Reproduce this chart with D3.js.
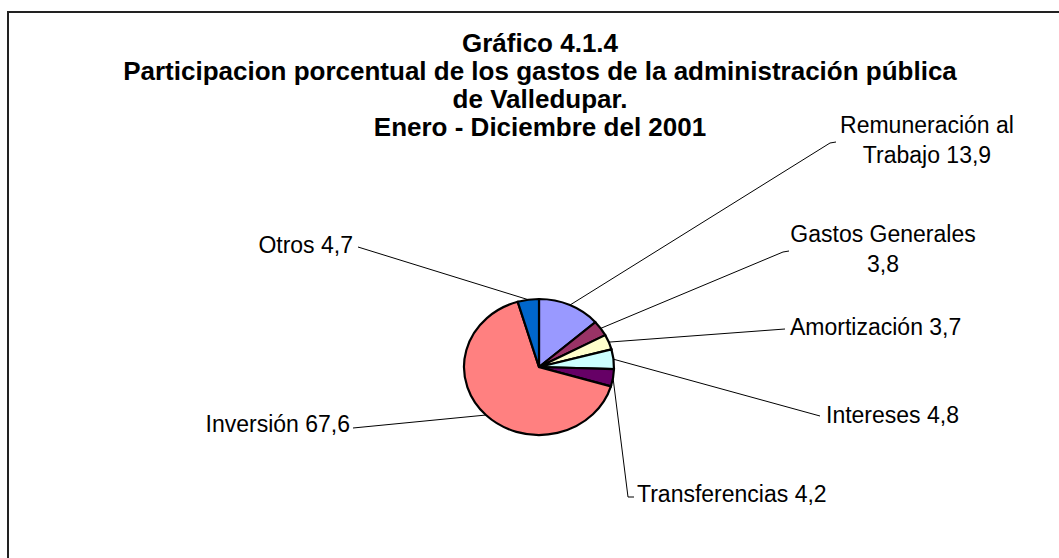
<!DOCTYPE html>
<html>
<head>
<meta charset="utf-8">
<script src="https://cdn.jsdelivr.net/npm/d3@7"></script>
<style>
  body { margin: 0; background: #fff; }
  text { font-family: "Liberation Sans", Arial, sans-serif; fill: #000; }
</style>
</head>
<body>
<div id="chart"></div>
<script>
// data
var categories = ["Remuneración al Trabajo", "Gastos Generales", "Amortización", "Intereses", "Transferencias", "Inversión", "Otros"];
var values = [13.9, 3.8, 3.7, 4.8, 4.2, 67.6, 4.7];
var colors = ["#9999FF", "#993366", "#FFFFCC", "#CCFFFF", "#660066", "#FF8080", "#0066CC"];
var titleLines = ["Gráfico 4.1.4", "Participacion porcentual de los gastos de la administración pública", "de Valledupar.", "Enero - Diciembre del 2001"];

// label placement (layout only)
var labelLayout = [
    {lines: ["Remuneración al", "Trabajo {v}"], x: 927, y: 133, anchor: "middle", end: [[830, 143], [836, 142]]},
    {lines: ["Gastos Generales", "{v}"], x: 883, y: 242, anchor: "middle", end: [[783, 252], [789, 251]]},
    {lines: ["Amortización {v}"], x: 790, y: 335, anchor: "start", end: [[785, 329]]},
    {lines: ["Intereses {v}"], x: 826, y: 423, anchor: "start", end: [[820, 416]]},
    {lines: ["Transferencias {v}"], x: 637, y: 502, anchor: "start", end: [[628, 497], [634, 497]]},
    {lines: ["Inversión {v}"], x: 350, y: 432, anchor: "end", end: [[353, 428]]},
    {lines: ["Otros {v}"], x: 353, y: 253, anchor: "end", end: [[358, 247]]}
];

var W = 1059, H = 558;
var cx = 539, cy = 367, rx = 75, ry = 68;

var svg = d3.select("#chart").append("svg")
    .attr("width", W)
    .attr("height", H);

svg.append("rect")
    .attr("x", 8).attr("y", 12)
    .attr("width", W + 20).attr("height", H + 20)
    .style("fill", "white")
    .style("stroke", "#222")
    .style("stroke-width", 2);

// title
svg.append("text")
    .attr("x", 540)
    .attr("text-anchor", "middle")
    .style("font-weight", "bold")
    .style("font-size", "26px")
    .selectAll("tspan")
    .data(titleLines)
    .enter().append("tspan")
    .attr("x", 540)
    .attr("y", function(d, i){ return 52 + i * 28; })
    .text(function(d){ return d; });

var fmt = function(v){ return d3.format(".1f")(v).replace(".", ","); };

var pie = d3.pie().sort(null).value(function(d){ return d; });
var arcs = pie(values);

var arc = d3.arc().innerRadius(0).outerRadius(rx);

var g = svg.append("g")
    .attr("transform", "translate(" + cx + "," + cy + ") scale(1," + (ry / rx) + ")");

g.selectAll("path")
    .data(arcs)
    .enter().append("path")
    .attr("d", arc)
    .style("fill", function(d, i){ return colors[i]; })
    .style("stroke", "#000")
    .style("stroke-width", 2.2)
    .attr("vector-effect", "non-scaling-stroke");

// leader lines
arcs.forEach(function(d, i){
    var a = (d.startAngle + d.endAngle) / 2;
    var pts = [[cx + rx * Math.sin(a), cy - ry * Math.cos(a)]].concat(labelLayout[i].end);
    svg.append("path")
        .attr("d", d3.line()(pts))
        .style("fill", "none")
        .style("stroke", "#000")
        .style("stroke-width", 1);
});

// labels
labelLayout.forEach(function(l, i){
    var t = svg.append("text")
        .attr("text-anchor", l.anchor)
        .style("font-size", "23px");
    l.lines.forEach(function(s, j){
        t.append("tspan")
            .attr("x", l.x)
            .attr("y", l.y + j * 30)
            .text(s.replace("{v}", fmt(values[i])));
    });
});
</script>
</body>
</html>
